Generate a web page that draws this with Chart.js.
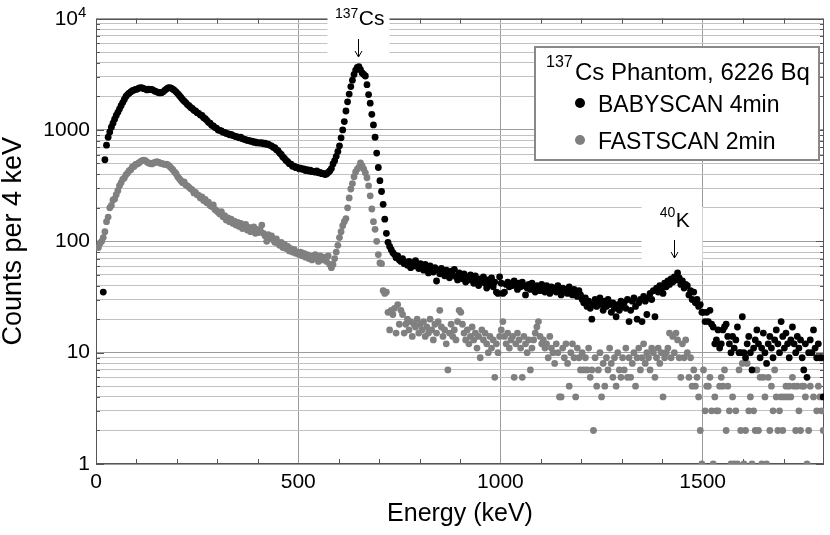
<!DOCTYPE html>
<html><head><meta charset="utf-8">
<script src="https://cdn.jsdelivr.net/npm/chart.js@4/dist/chart.umd.min.js"></script>
<style>html,body{margin:0;padding:0;background:#fff;}#wrap{width:830px;height:535px;}</style>
</head><body><div id="wrap"><canvas id="c" width="830" height="535"></canvas></div>
<script>
// ---- data (counts per 4 keV channel, channel centres start at 6 keV) ----
const energyStart = 6;   // keV of first channel
const binWidth = 4;      // keV per channel
const babyscan = [
  null,null,null,35,540,730,860,960,1060,1150,1250,1350,1440,1540,1650,1760,1880,2000,2080,2140,2200,2250,2280,2310,2330,
  2370,2400,2390,2350,2330,2290,2320,2300,2310,2270,2230,2200,2170,2150,2160,2200,2270,2330,2390,2400,2370,2320,2270,2200,2120,
  2040,1960,1880,1810,1760,1690,1650,1590,1560,1500,1480,1430,1410,1360,1350,1290,1260,1220,1170,1150,1100,1090,1050,1040,1000,
  990,980,955,950,930,925,905,910,890,885,870,865,850,860,835,825,820,805,805,790,795,775,780,765,770,
  760,768,750,760,742,745,728,720,698,692,665,652,620,602,572,556,532,518,498,492,472,474,458,462,448,
  455,443,447,432,440,428,436,422,425,418,428,412,415,405,408,398,402,415,428,450,495,530,580,642,720,
  850,1000,1190,1480,1790,2100,2450,2800,3150,3450,3650,3700,3480,3250,3150,3050,2550,2080,1740,1380,1110,860,620,460,350,
  280,215,158,118,98,90,84,79,76,71,74,68,66,70,63,65,61,66,58,64,60,67,62,57,63,
  59,55,62,57,52,60,56,53,58,44,55,51,57,53,49,55,52,47,54,50,56,48,45,52,49,
  46,51,43,48,45,50,47,42,49,44,40,46,43,48,42,38,45,41,47,39,43,35,34,48,42,
  34,35,41,43,39,42,40,44,41,37,42,39,43,40,33,38,41,37,42,39,35,40,38,36,41,
  38,35,40,37,34,39,36,38,35,40,37,33,38,35,37,34,39,36,33,37,35,32,36,33,30,
  28,31,26,29,25,20,27,30,26,28,31,27,24,29,26,30,27,23,28,25,21,27,24,29,26,
  28,25,30,19,24,29,31,26,20,28,30,19,32,29,22,31,34,30,36,21,38,35,40,37,34,
  42,39,44,41,46,43,48,45,52,47,41,44,38,41,40,33,36,30,35,28,30,26,27,23,23,
  19,23,19,24,18,17,12,13,16,11,12,16,17,18,14,12,10,14,11,13,17,10,10,21,10,
  9,12,14,10,7,11,13,16,12,9,11,15,10,8,12,14,11,9,13,16,12,10,19,14,11,
  15,12,9,13,17,12,10,14,11,13,9,7,12,6,10,13,10,16,11,9,12,9,9,4
];
const fastscan = [
  88,96,100,108,122,150,165,200,210,235,240,262,285,315,335,360,370,395,410,430,440,465,470,490,495,
  505,520,530,535,530,515,505,500,495,505,510,520,515,505,500,495,490,492,485,470,455,440,420,405,380,
  365,350,336,342,320,315,305,296,290,272,275,262,258,245,250,232,238,222,225,210,205,212,193,188,182,
  176,185,166,170,155,162,150,158,145,152,140,148,136,145,130,138,142,126,133,122,130,135,118,128,120,
  126,140,118,112,100,115,108,112,103,98,105,96,92,98,88,94,86,90,82,86,80,84,78,80,76,
  80,74,78,72,76,70,74,68,72,76,70,66,74,68,72,70,66,74,62,58,62,70,80,92,108,
  122,138,150,160,200,245,295,330,380,420,445,462,505,475,445,412,372,315,256,195,150,128,100,76,64,
  63,36,34,35,23,16,24,22,25,15,27,18,24,22,15,18,20,16,19,14,18,17,20,15,18,
  16,19,14,17,15,20,16,13,18,15,19,24,17,14,16,12,7,15,18,14,16,13,19,24,23,
  18,15,13,16,12,14,17,13,15,11,14,9,16,13,15,12,10,14,11,13,6,12,10,14,16,
  19,14,12,15,11,13,14,6,12,15,13,11,6,14,12,10,13,7,11,13,15,17,19,14,12,
  13,11,12,9,14,11,10,8,12,10,4,4,11,9,12,8,5,10,12,9,4,11,9,7,10,
  7,9,7,11,6,7,2,9,5,7,10,4,8,5,9,7,11,8,6,9,5,10,7,6,9,
  7,11,6,9,6,8,10,5,9,11,7,9,12,8,10,9,7,11,10,6,9,11,8,10,4,
  9,10,11,15,9,14,10,15,13,9,6,12,9,13,10,6,9,5,7,5,6,4,2,1,7,
  3,5,5,6,3,1,4,3,3,5,6,5,7,2,5,3,1,4,1,3,1,7,2,8,1,
  2,8,3,4,1,3,2,7,2,6,1,6,4,1,6,2,5,3,7,4,2,3,4,2,4,
  5,4,5,4,6,5,2,5,3,2,5,5,4,1,2,5,0,4,0,3,5,4,3,2
];
const seriesNames = ['BABYSCAN 4min', 'FASTSCAN 2min'];
const legendTitleIso = '137';
const legendTitleText = 'Cs Phantom, 6226 Bq';
const xTicks = [0, 500, 1000, 1500];
const xMinorTicks = [100,200,300,400,600,700,800,900,1100,1200,1300,1400,1600,1700];
const yDecades = [1, 10, 100, 1000, 10000];
const yMinorMultipliers = [2,3,4,5,6,7,8,9];
const peakLabels = [
  {iso: '137', el: 'Cs', energy: 649},
  {iso: '40',  el: 'K',  energy: 1428}
];

const FONT = "'Liberation Sans', Arial, Helvetica, sans-serif";

function toPoints(arr) {
  const pts = [];
  arr.forEach((c, i) => { if (c !== null && c > 0) pts.push({x: energyStart + i * binWidth, y: c}); });
  return pts;
}
function isDecade(v) { return yDecades.includes(v); }

const yTickValues = [];
yDecades.forEach(d => {
  yTickValues.push(d);
  if (d < 10000) yMinorMultipliers.forEach(m => yTickValues.push(d * m));
});

function drawArrow(ctx, cx, y0, y1) {
  ctx.beginPath();
  ctx.moveTo(cx, y0); ctx.lineTo(cx, y1);
  ctx.moveTo(cx - 3.5, y1 - 6); ctx.lineTo(cx, y1); ctx.lineTo(cx + 3.5, y1 - 6);
  ctx.stroke();
}

const decor = {
  id: 'decor',
  beforeDatasetsDraw(chart) {
    const {ctx, chartArea: a, scales: {x, y}} = chart;
    ctx.save();
    ctx.strokeStyle = '#555';
    ctx.lineWidth = 1;
    ctx.beginPath();
    xMinorTicks.forEach(e => {
      const px = Math.round(x.getPixelForValue(e)) + 0.5;
      ctx.moveTo(px, a.bottom); ctx.lineTo(px, a.bottom - 5);
      ctx.moveTo(px, a.top); ctx.lineTo(px, a.top + 5);
    });
    yTickValues.forEach(v => {
      const py = Math.round(y.getPixelForValue(v)) + 0.5;
      const len = isDecade(v) ? 8 : 4;
      ctx.moveTo(a.left, py); ctx.lineTo(a.left + len, py);
      ctx.moveTo(a.right, py); ctx.lineTo(a.right - len, py);
    });
    ctx.stroke();
    ctx.strokeRect(Math.round(a.left) + 0.5, Math.round(a.top) + 0.5,
                   Math.round(a.right - a.left) - 1, Math.round(a.bottom - a.top) - 1);

    // peak labels with white backgrounds
    const cs = peakLabels[0], k = peakLabels[1];
    const csX = x.getPixelForValue(cs.energy);
    const kX = x.getPixelForValue(k.energy);
    ctx.fillStyle = '#fff';
    ctx.fillRect(csX - 31, 0, 62, 59);
    ctx.fillRect(kX - 32, 207, 61, 54);

    ctx.fillStyle = '#000';
    ctx.strokeStyle = '#000';
    const labelPos = [
      {lab: cs, cx: csX, base: 25, supBase: 18, a0: 39, a1: 57},
      {lab: k,  cx: kX,  base: 227, supBase: 217, a0: 240, a1: 258}
    ];
    labelPos.forEach(p => {
      ctx.font = '14px ' + FONT;
      const wIso = ctx.measureText(p.lab.iso).width;
      ctx.font = '21px ' + FONT;
      const wEl = ctx.measureText(p.lab.el).width;
      const start = p.cx - (wIso + wEl) / 2 + 1;
      ctx.textAlign = 'left';
      ctx.textBaseline = 'alphabetic';
      ctx.font = '14px ' + FONT;
      ctx.fillText(p.lab.iso, start, p.supBase);
      ctx.font = '21px ' + FONT;
      ctx.fillText(p.lab.el, start + wIso + 0.5, p.base);
      ctx.lineWidth = 1;
      drawArrow(ctx, Math.round(p.cx) + 0.5, p.a0, p.a1);
    });
    ctx.restore();
  },
  afterDraw(chart) {
    const {ctx} = chart;
    ctx.save();
    // 10^4 tick label
    ctx.fillStyle = '#000';
    ctx.textBaseline = 'alphabetic';
    ctx.textAlign = 'right';
    ctx.font = '21px ' + FONT;
    ctx.fillText('10', 78, 25);
    ctx.textAlign = 'left';
    ctx.font = '15px ' + FONT;
    ctx.fillText('4', 78, 17);

    // legend box
    const lx = 535, ly = 47, lw = 284, lh = 113;
    ctx.fillStyle = '#fff';
    ctx.fillRect(lx, ly, lw, lh);
    ctx.strokeStyle = '#888';
    ctx.lineWidth = 2;
    ctx.strokeRect(lx, ly, lw, lh);
    ctx.fillStyle = '#000';
    ctx.font = '16px ' + FONT;
    ctx.fillText(legendTitleIso, 546, 67);
    ctx.font = '24px ' + FONT;
    ctx.fillText(legendTitleText, 575, 80);
    const colors = ['#000000', '#808080'];
    const rows = [103, 140];
    rows.forEach((ry, i) => {
      ctx.fillStyle = colors[i];
      ctx.beginPath(); ctx.arc(580, ry, 5, 0, Math.PI * 2); ctx.fill();
      ctx.fillStyle = '#000';
      ctx.font = '23px ' + FONT;
      ctx.fillText(seriesNames[i], 598, ry + 9);
    });
    ctx.restore();
  }
};

new Chart(document.getElementById('c'), {
  type: 'scatter',
  data: {
    datasets: [
      {label: seriesNames[0], data: toPoints(babyscan), backgroundColor: '#000000', borderWidth: 0, pointRadius: 3.4, pointHoverRadius: 3.4},
      {label: seriesNames[1], data: toPoints(fastscan), backgroundColor: '#808080', borderWidth: 0, pointRadius: 3.4, pointHoverRadius: 3.4}
    ]
  },
  options: {
    responsive: false,
    animation: false,
    events: [],
    layout: {padding: {top: 15, right: 6, left: 0, bottom: 0}},
    plugins: {legend: {display: false}, tooltip: {enabled: false}},
    scales: {
      x: {
        type: 'linear', min: 0, max: 1800,
        afterBuildTicks: s => { s.ticks = xTicks.map(v => ({value: v})); },
        afterFit: s => { s.height = 71; },
        grid: {color: '#9c9c9c', lineWidth: 1, drawTicks: false},
        border: {display: false},
        ticks: {autoSkip: false, maxRotation: 0, padding: 6, color: '#000', font: {family: FONT, size: 21}, callback: v => String(v)},
        title: {display: true, text: 'Energy (keV)', color: '#000', font: {family: FONT, size: 25, lineHeight: 1}, padding: {top: 0, bottom: 8}}
      },
      y: {
        type: 'logarithmic', min: 1, max: 10000,
        afterBuildTicks: s => { s.ticks = yTickValues.map(v => ({value: v})); },
        afterFit: s => { s.width = 96; },
        grid: {color: ctx => (ctx.tick && isDecade(ctx.tick.value)) ? '#9c9c9c' : '#c2c2c2', lineWidth: 1, drawTicks: false},
        border: {display: false},
        ticks: {autoSkip: false, padding: 6, color: '#000', font: {family: FONT, size: 21},
          callback: v => (isDecade(v) && v !== 10000) ? String(v) : ''},
        title: {display: true, text: 'Counts per 4 keV', color: '#000', font: {family: FONT, size: 27, lineHeight: 1}, padding: {top: 0, bottom: 0}}
      }
    }
  },
  plugins: [decor]
});
</script>
</body></html>
